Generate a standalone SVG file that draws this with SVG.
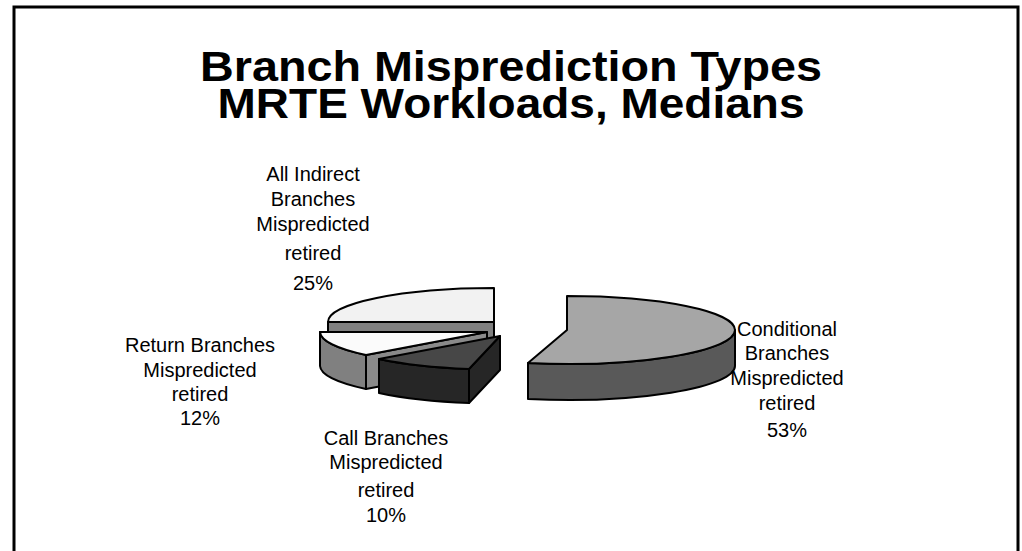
<svg xmlns="http://www.w3.org/2000/svg" width="1022" height="551" viewBox="0 0 1022 551">
<style>
.t{font-family:"Liberation Sans",Arial,sans-serif;font-weight:bold;font-size:42px;fill:#000;text-anchor:middle}
.l{font-family:"Liberation Sans",Arial,sans-serif;font-size:20px;fill:#000;text-anchor:middle}
.e{stroke:#000;stroke-width:2;stroke-linejoin:round}
</style>
<rect width="1022" height="551" fill="#fff"/>
<path d="M14,551 V7 H1018 V551" fill="none" stroke="#000" stroke-width="3"/>
<g id="title">
<text class="t" x="511" y="81" textLength="622" lengthAdjust="spacingAndGlyphs">Branch Misprediction Types</text>
<text class="t" x="511" y="118" textLength="587" lengthAdjust="spacingAndGlyphs">MRTE Workloads, Medians</text>
</g>
<g id="slice-indirect">
<path class="e" fill="#808080" d="M328,322 H494 V356 H328 Z"/>
<path class="e" fill="#f2f2f2" d="M494,322 H328 A166,34 0 0 1 494,288 Z"/>
</g>
<g id="slice-return">
<path class="e" fill="#8a8a8a" d="M487,332 L366,355 L366,389 L487,366 Z"/>
<path class="e" fill="#808080" d="M366,355 A166,34 0 0 1 320,332 L320,366 A166,34 0 0 0 366,389 Z"/>
<path class="e" fill="#fbfbfb" d="M487,332 L366,355 A166,34 0 0 1 320,332 Z"/>
</g>
<g id="slice-call">
<path class="e" fill="#262626" d="M500,336 L469,369 L469,403 L500,370 Z"/>
<path class="e" fill="#262626" d="M469,369 A166,34 0 0 1 379,359 L379,393 A166,34 0 0 0 469,403 Z"/>
<path class="e" fill="#474747" d="M500,336 L469,369 A166,34 0 0 1 379,359 Z"/>
</g>
<g id="slice-conditional">
<path class="e" fill="#595959" d="M735,330 A168,34 0 0 1 528,363 L528,399 A168,34 0 0 0 735,366 Z"/>
<path class="e" fill="#a6a6a6" d="M567,330 L567,296 A168,34 0 0 1 735,330 A168,34 0 0 1 528,363 Z"/>
</g>
<g id="label-indirect" class="l">
<text x="313" y="181">All Indirect</text>
<text x="313" y="206">Branches</text>
<text x="313" y="231">Mispredicted</text>
<text x="313" y="260">retired</text>
<text x="313" y="290">25%</text>
</g>
<g id="label-return" class="l">
<text x="200" y="352">Return Branches</text>
<text x="200" y="377">Mispredicted</text>
<text x="200" y="401">retired</text>
<text x="200" y="425">12%</text>
</g>
<g id="label-call" class="l">
<text x="386" y="445">Call Branches</text>
<text x="386" y="469">Mispredicted</text>
<text x="386" y="497">retired</text>
<text x="386" y="522">10%</text>
</g>
<g id="label-conditional" class="l">
<text x="787" y="336">Conditional</text>
<text x="787" y="360">Branches</text>
<text x="787" y="385">Mispredicted</text>
<text x="787" y="410">retired</text>
<text x="787" y="437">53%</text>
</g>
</svg>
